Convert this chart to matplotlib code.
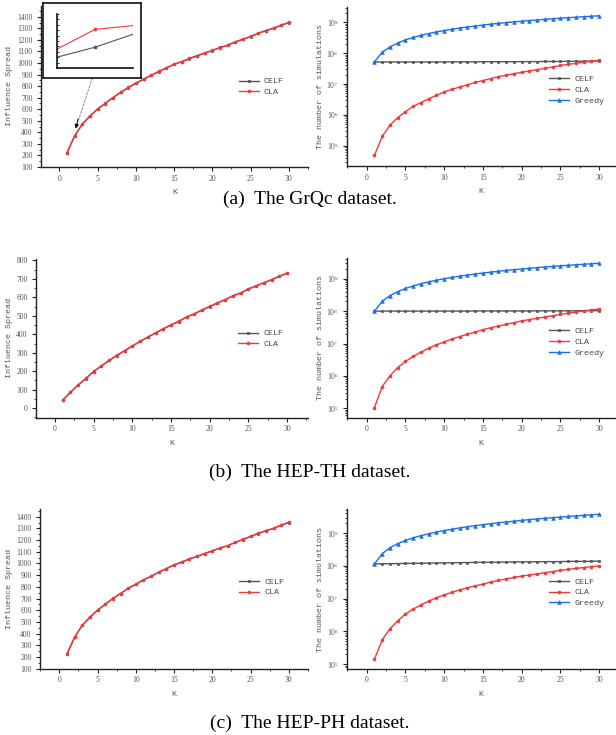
import matplotlib
matplotlib.use("Agg")
import matplotlib.pyplot as plt
from matplotlib.ticker import MultipleLocator, LogLocator, NullFormatter
from matplotlib.font_manager import FontProperties

# ---------------- data ----------------
k = list(range(1, 31))

a_spread_celf = [222, 369, 471, 540, 601, 651, 699, 746, 786, 826, 858, 893, 925, 959, 988,
                 1012, 1037, 1063, 1087, 1107, 1134, 1153, 1183, 1206, 1228, 1258, 1281, 1302, 1326, 1349]
a_spread_cla = [224, 372, 470, 542, 603, 649, 701, 745, 788, 825, 860, 892, 927, 958, 990,
                1010, 1039, 1062, 1085, 1109, 1132, 1155, 1181, 1204, 1230, 1256, 1279, 1299, 1328, 1351]

b_spread_celf = [43, 85, 126, 160, 199, 228, 259, 285, 312, 336, 362, 384, 408, 429, 451,
                 469, 494, 510, 532, 550, 571, 587, 609, 623, 646, 662, 680, 695, 715, 730]
b_spread_cla = [44, 86, 125, 161, 198, 229, 258, 286, 311, 337, 361, 385, 407, 430, 450,
                470, 493, 511, 531, 551, 570, 588, 608, 624, 645, 663, 679, 696, 714, 731]

c_spread_celf = [223, 369, 471, 540, 601, 650, 701, 742, 787, 822, 859, 890, 926, 955, 988,
                 1011, 1039, 1060, 1085, 1108, 1132, 1151, 1181, 1204, 1232, 1256, 1281, 1299, 1328, 1350]
c_spread_cla = [225, 371, 470, 541, 600, 651, 700, 743, 786, 823, 858, 891, 925, 956, 987,
                1012, 1038, 1061, 1084, 1109, 1131, 1152, 1180, 1205, 1231, 1257, 1280, 1300, 1327, 1352]

a_sim_celf = [5.2e7, 5.2e7, 5.2e7, 5.2e7, 5.2e7, 5.2e7, 5.2e7, 5.2e7, 5.2e7, 5.2e7,
              5.25e7, 5.25e7, 5.25e7, 5.25e7, 5.3e7, 5.3e7, 5.3e7, 5.3e7, 5.3e7, 5.35e7,
              5.35e7, 5.35e7, 5.4e7, 5.4e7, 5.4e7, 5.45e7, 5.5e7, 5.5e7, 5.55e7, 5.6e7]
a_sim_cla = [4.8e4, 2.0e5, 4.6e5, 8.2e5, 1.26e6, 1.9e6, 2.5e6, 3.3e6, 4.3e6, 5.5e6,
             6.7e6, 8.0e6, 9.5e6, 1.13e7, 1.3e7, 1.5e7, 1.74e7, 1.92e7, 2.17e7, 2.4e7,
             2.66e7, 2.93e7, 3.24e7, 3.58e7, 4.0e7, 4.37e7, 4.7e7, 5.1e7, 5.5e7, 5.9e7]
a_sim_greedy = [5.2e7, 1.07e8, 1.6e8, 2.15e8, 2.7e8, 3.25e8, 3.8e8, 4.35e8, 4.9e8, 5.45e8,
                6.0e8, 6.55e8, 7.1e8, 7.65e8, 8.2e8, 8.75e8, 9.3e8, 9.85e8, 1.04e9, 1.09e9,
                1.15e9, 1.2e9, 1.26e9, 1.31e9, 1.37e9, 1.42e9, 1.48e9, 1.53e9, 1.59e9, 1.64e9]

b_sim_celf = [1.0e8, 1.0e8, 1.0e8, 1.0e8, 1.0e8, 1.0e8, 1.0e8, 1.0e8, 1.0e8, 1.0e8,
              1.0e8, 1.0e8, 1.0e8, 1.01e8, 1.01e8, 1.01e8, 1.01e8, 1.01e8, 1.01e8, 1.01e8,
              1.01e8, 1.02e8, 1.02e8, 1.02e8, 1.02e8, 1.02e8, 1.02e8, 1.03e8, 1.03e8, 1.03e8]
b_sim_cla = [1.05e5, 4.7e5, 1.0e6, 1.8e6, 2.8e6, 4.0e6, 5.4e6, 7.2e6, 9.1e6, 1.12e7,
             1.38e7, 1.64e7, 1.93e7, 2.27e7, 2.67e7, 3.08e7, 3.45e7, 3.9e7, 4.4e7, 5.0e7,
             5.5e7, 6.0e7, 6.6e7, 7.2e7, 7.9e7, 8.7e7, 9.3e7, 1.02e8, 1.09e8, 1.17e8]
b_sim_greedy = [1.0e8, 2.0e8, 3.0e8, 4.0e8, 5.0e8, 6.0e8, 7.0e8, 8.0e8, 9.0e8, 1.0e9,
                1.1e9, 1.2e9, 1.3e9, 1.4e9, 1.5e9, 1.6e9, 1.7e9, 1.8e9, 1.9e9, 2.0e9,
                2.1e9, 2.2e9, 2.3e9, 2.4e9, 2.5e9, 2.6e9, 2.7e9, 2.8e9, 2.9e9, 3.0e9]

c_sim_celf = [1.15e8, 1.16e8, 1.17e8, 1.18e8, 1.19e8, 1.2e8, 1.21e8, 1.22e8, 1.23e8, 1.24e8,
              1.25e8, 1.26e8, 1.27e8, 1.28e8, 1.29e8, 1.3e8, 1.3e8, 1.31e8, 1.32e8, 1.33e8,
              1.33e8, 1.34e8, 1.35e8, 1.35e8, 1.36e8, 1.37e8, 1.38e8, 1.38e8, 1.39e8, 1.4e8]
c_sim_cla = [1.4e5, 5.5e5, 1.2e6, 2.1e6, 3.4e6, 4.8e6, 6.5e6, 8.4e6, 1.07e7, 1.3e7,
             1.56e7, 1.85e7, 2.15e7, 2.45e7, 2.8e7, 3.2e7, 3.6e7, 4.0e7, 4.45e7, 4.9e7,
             5.3e7, 5.7e7, 6.2e7, 6.7e7, 7.3e7, 7.8e7, 8.4e7, 8.9e7, 9.5e7, 1.0e8]
c_sim_greedy = [1.15e8, 2.35e8, 3.6e8, 4.8e8, 6.0e8, 7.2e8, 8.4e8, 9.6e8, 1.08e9, 1.2e9,
                1.32e9, 1.45e9, 1.57e9, 1.7e9, 1.82e9, 1.95e9, 2.08e9, 2.2e9, 2.33e9, 2.46e9,
                2.6e9, 2.72e9, 2.85e9, 2.98e9, 3.1e9, 3.25e9, 3.38e9, 3.5e9, 3.65e9, 3.8e9]

# inset (zoomed view near K=2)
inset_x = [1.9, 2.0, 2.1]
inset_celf = [364.0, 367.7, 372.5]
inset_cla = [367.0, 374.3, 375.7]

captions = ["(a)  The GrQc dataset.", "(b)  The HEP-TH dataset.", "(c)  The HEP-PH dataset."]
series_labels = ["CELF", "CLA", "Greedy"]

# ---------------- style ----------------
plt.rcParams["font.family"] = ["Liberation Serif", "DejaVu Serif"]
plt.rcParams["mathtext.default"] = "regular"

W, H = 616, 735
fig = plt.figure(figsize=(W / 100, H / 100), dpi=100)

C_CELF = "#555555"
C_CLA = "#ee3a3a"
C_GREEDY = "#1f6fe0"
mono = FontProperties(family="Liberation Mono", size=6)
MS = dict(ms=2.1, mew=0.5)


def px_axes(l, t, r, b):
    return fig.add_axes([l / W, 1 - b / H, (r - l) / W, (b - t) / H])


def style(ax, log=False):
    for s in ("top", "right"):
        ax.spines[s].set_visible(False)
    for s in ("left", "bottom"):
        ax.spines[s].set_linewidth(1.0)
        ax.spines[s].set_color("#222222")
    ax.tick_params(which="major", direction="out", length=3, width=0.8,
                   color="#222222", labelsize=5.5, labelcolor="#555555")
    ax.tick_params(which="minor", direction="out", length=1.6, width=0.6, color="#222222")
    ax.tick_params(axis="x", pad=2.5)
    ax.tick_params(axis="y", pad=3.0)
    ax.xaxis.set_major_locator(MultipleLocator(5))
    ax.xaxis.set_minor_locator(MultipleLocator(2.5))
    if log:
        ax.set_yscale("log")
        ax.yaxis.set_major_locator(LogLocator(base=10, numticks=15))
        ax.yaxis.set_minor_locator(LogLocator(base=10, subs=range(2, 10), numticks=15))
        ax.yaxis.set_minor_formatter(NullFormatter())
    ax.set_xlabel("K", fontproperties=mono, color="#555555")


def add_legend(ax, anchor):
    ax.legend(loc="upper left", bbox_to_anchor=anchor, frameon=False, prop=mono,
              handlelength=2.4, handletextpad=0.6, labelspacing=0.35,
              borderpad=0, borderaxespad=0, labelcolor="#444444")


def spread_panel(box, xlim, ylim, celf, cla, ymajor, leg_anchor, ylab_x):
    ax = px_axes(*box)
    style(ax)
    ax.plot(k, celf, color=C_CELF, lw=1.0, marker="s", label=series_labels[0], **MS)
    ax.plot(k, cla, color=C_CLA, lw=1.0, marker="o", label=series_labels[1], **MS)
    ax.set_xlim(*xlim)
    ax.set_ylim(*ylim)
    ax.yaxis.set_major_locator(MultipleLocator(ymajor))
    ax.yaxis.set_minor_locator(MultipleLocator(ymajor / 2))
    ax.set_ylabel("Influence Spread", fontproperties=mono, color="#555555")
    ax.yaxis.set_label_coords(ylab_x, 0.5)
    bh = box[3] - box[1]
    ax.xaxis.set_label_coords(0.5, -22 / bh)
    add_legend(ax, leg_anchor)
    return ax


def sim_panel(box, xlim, ylim, celf, cla, greedy, leg_anchor, ylab_x):
    ax = px_axes(*box)
    style(ax, log=True)
    ax.plot(k, celf, color=C_CELF, lw=1.0, marker="s", label=series_labels[0], **MS)
    ax.plot(k, cla, color=C_CLA, lw=1.0, marker="o", label=series_labels[1], **MS)
    ax.plot(k, greedy, color=C_GREEDY, lw=1.0, marker="^", ms=2.6, mew=0.5,
            label=series_labels[2])
    ax.set_xlim(*xlim)
    ax.set_ylim(*ylim)
    ax.set_ylabel("The number of simulations", fontproperties=mono, color="#555555")
    ax.yaxis.set_label_coords(ylab_x, 0.5)
    bh = box[3] - box[1]
    ax.xaxis.set_label_coords(0.5, -22 / bh)
    add_legend(ax, leg_anchor)
    return ax


# row (a)
axA = spread_panel((41, 6, 308, 167), (-2.4, 32.5), (100, 1493), a_spread_celf, a_spread_cla,
                   100, (0.74, 0.555), -0.106)
sim_panel((347, 7, 615, 166), (-2.54, 32.04), (10 ** 4.34, 10 ** 9.5),
          a_sim_celf, a_sim_cla, a_sim_greedy, (0.754, 0.57), -0.086)

# row (b)
spread_panel((36, 259, 308, 417.7), (-2.45, 32.7), (-52, 808), b_spread_celf, b_spread_cla,
             100, (0.743, 0.555), -0.086)
sim_panel((347, 258, 615, 417.7), (-2.54, 32.04), (10 ** 4.71, 10 ** 9.64),
          b_sim_celf, b_sim_cla, b_sim_greedy, (0.754, 0.565), -0.086)

# row (c)
spread_panel((40, 509.3, 308, 668.7), (-2.52, 32.5), (100, 1463), c_spread_celf, c_spread_cla,
             100, (0.743, 0.57), -0.102)
sim_panel((347, 509.3, 615, 668.7), (-2.54, 32.04), (10 ** 4.86, 10 ** 9.73),
          c_sim_celf, c_sim_cla, c_sim_greedy, (0.754, 0.57), -0.086)

# ---------------- inset ----------------
frame = px_axes(43, 3, 141, 77.7)
frame.set_xticks([])
frame.set_yticks([])
frame.patch.set_facecolor("white")
for s in frame.spines.values():
    s.set_linewidth(1.2)
    s.set_color("#111111")

ins = px_axes(57, 14, 133, 68)
ins.patch.set_alpha(0)
for s in ("top", "right"):
    ins.spines[s].set_visible(False)
for s in ("left", "bottom"):
    ins.spines[s].set_linewidth(1.2)
    ins.spines[s].set_color("#111111")
ins.plot(inset_x, inset_celf, color=C_CELF, lw=0.8, marker="s", ms=1.6, markevery=[1])
ins.plot(inset_x, inset_cla, color=C_CLA, lw=0.8, marker="o", ms=1.6, markevery=[1])
ins.set_xlim(1.9, 2.1)
ins.set_ylim(360, 380)
ins.set_xticks([])
ins.yaxis.set_major_locator(MultipleLocator(2))
ins.tick_params(axis="y", which="major", direction="in", length=1.5, width=0.6, labelleft=False)

# dashed connector from inset to the zoomed point + arrow head
start = (95.5 / W, 1 - 68 / H)
tip = (2.15, 432)
axA.annotate("", xy=tip, xycoords="data", xytext=start, textcoords="figure fraction",
             arrowprops=dict(arrowstyle="-", color="#999999", lw=0.8, linestyle=(0, (2, 1.5))),
             zorder=5)
axA.annotate("", xy=tip, xycoords="data", xytext=(2.45, 520), textcoords="data",
             arrowprops=dict(arrowstyle="-|>", color="black", lw=0.6,
                             mutation_scale=6, shrinkA=0, shrinkB=0), zorder=6)

# ---------------- captions ----------------
for text, yp in zip(captions, (199.5, 472.5, 723)):
    fig.text(310 / W, 1 - yp / H, text, ha="center", va="center",
             fontsize=14, family="Liberation Serif", color="black")

fig.savefig("out.png", dpi=100)
